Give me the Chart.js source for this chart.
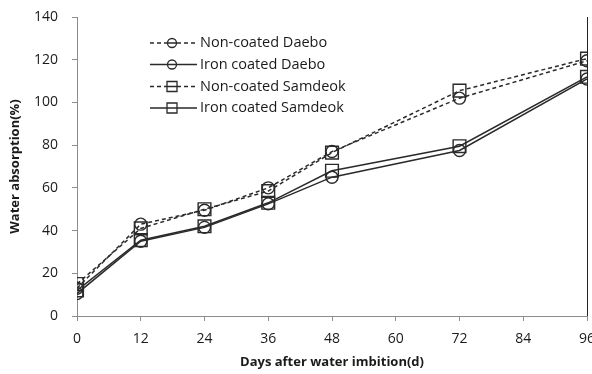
<!DOCTYPE html>
<html>
<head>
<meta charset="utf-8">
<script src="https://cdn.jsdelivr.net/npm/chart.js@4"></script>
<style>
    html, body { margin: 0; padding: 0; background: #fff; }
    #wrap { width: 592px; height: 374px; }
</style>
</head>
<body>
<div id="wrap"><canvas id="absorptionChart"></canvas></div>
<script>
// ======================
// Data
// ======================
const days = [0, 12, 24, 36, 48, 72, 96];
const nonCoatedDaebo = [13, 43, 49.5, 60, 77, 102, 119.5];
const ironCoatedDaebo = [10.5, 35, 41.5, 52.5, 65, 77.5, 111];
const nonCoatedSamdeok = [15, 41, 50, 58.5, 76.5, 105.5, 120.5];
const ironCoatedSamdeok = [12, 35.5, 42, 53, 68, 79.5, 112];
const seriesNames = ['Non-coated Daebo', 'Iron coated Daebo', 'Non-coated Samdeok', 'Iron coated Samdeok'];
const xTicks = [0, 12, 24, 36, 48, 60, 72, 84, 96];
const yTicks = [0, 20, 40, 60, 80, 100, 120, 140];

const lineColor = '#2a2a2a';
const axisColor = '#8c8c8c';
const textColor = '#1a1a1a';

function toPoints(values) {
    return days.map((d, i) => ({ x: d, y: values[i] }));
}

function series(label, values, dashed, shape) {
    return {
        label: label,
        data: toPoints(values),
        borderColor: lineColor,
        borderWidth: 1.5,
        borderDash: dashed ? [4, 3] : [],
        pointStyle: shape,
        pointRadius: shape === 'rect' ? 9 : 6,
        pointBorderColor: lineColor,
        pointBorderWidth: 1.4,
        pointBackgroundColor: 'rgba(0,0,0,0)',
        tension: 0
    };
}

// ======================
// Legend + right border
// ======================
const lineLegend = {
    id: 'lineLegend',
    afterDraw(chart) {
        const ctx = chart.ctx;
        const area = chart.chartArea;
        ctx.save();

        // right frame line
        ctx.strokeStyle = '#222';
        ctx.lineWidth = 1;
        ctx.beginPath();
        ctx.moveTo(area.right + 0.5, area.top);
        ctx.lineTo(area.right + 0.5, area.bottom);
        ctx.stroke();

        const startX = 150, endX = 197, midX = 172;
        const rows = [43, 64.5, 86.5, 108];
        ctx.font = '14.5px "Open Sans"';
        ctx.textBaseline = 'middle';
        chart.data.datasets.forEach((ds, i) => {
            const y = rows[i];
            ctx.strokeStyle = lineColor;
            ctx.lineWidth = 1.3;
            ctx.setLineDash(ds.borderDash);
            ctx.beginPath();
            ctx.moveTo(startX, y);
            ctx.lineTo(midX - 5, y);
            ctx.moveTo(midX + 5, y);
            ctx.lineTo(endX, y);
            ctx.stroke();
            ctx.setLineDash([]);
            ctx.beginPath();
            if (ds.pointStyle === 'rect') {
                ctx.rect(midX - 5, y - 5, 10, 10);
                ctx.moveTo(midX - 5, y);
                ctx.lineTo(midX + 5, y);
            } else {
                ctx.arc(midX, y, 4.5, 0, Math.PI * 2);
                ctx.moveTo(midX - 4.5, y);
                ctx.lineTo(midX + 4.5, y);
            }
            ctx.stroke();
            ctx.fillStyle = textColor;
            ctx.fillText(ds.label, 200, y);
        });
        ctx.restore();
    }
};

// ======================
// Chart
// ======================
const canvas = document.getElementById('absorptionChart');

new Chart(canvas, {
    type: 'line',
    data: {
        datasets: [
            series(seriesNames[0], nonCoatedDaebo, true, 'circle'),
            series(seriesNames[1], ironCoatedDaebo, false, 'circle'),
            series(seriesNames[2], nonCoatedSamdeok, true, 'rect'),
            series(seriesNames[3], ironCoatedSamdeok, false, 'rect')
        ]
    },
    options: {
        responsive: true,
        maintainAspectRatio: false,
        animation: false,
        layout: {
            autoPadding: false,
            padding: { top: 17, right: 5, left: 0, bottom: 0 }
        },
        scales: {
            x: {
                type: 'linear',
                min: 0,
                max: 96,
                afterBuildTicks: (scale) => { scale.ticks = xTicks.map(v => ({ value: v })); },
                afterFit: (scale) => {
                    scale.height = 58;
                    scale.paddingLeft = 0;
                    scale.paddingRight = 0;
                },
                ticks: {
                    color: textColor,
                    font: { family: 'Open Sans', size: 14 },
                    padding: 10,
                    maxRotation: 0
                },
                grid: {
                    drawOnChartArea: false,
                    drawTicks: true,
                    tickLength: 5,
                    color: axisColor
                },
                border: { color: axisColor, width: 1 },
                title: {
                    display: true,
                    text: 'Days after water imbition(d)',
                    color: textColor,
                    font: { family: 'Open Sans', size: 13, weight: 'bold' },
                    padding: { top: 0, bottom: 4 }
                }
            },
            y: {
                min: 0,
                max: 140,
                afterBuildTicks: (scale) => { scale.ticks = yTicks.map(v => ({ value: v })); },
                afterFit: (scale) => {
                    scale.width = 77;
                    scale.paddingTop = 0;
                    scale.paddingBottom = 0;
                },
                ticks: {
                    color: textColor,
                    font: { family: 'Open Sans', size: 14 },
                    padding: 14
                },
                grid: {
                    drawOnChartArea: false,
                    drawTicks: true,
                    tickLength: 5,
                    color: axisColor
                },
                border: { color: axisColor, width: 1 },
                title: {
                    display: true,
                    text: 'Water absorption(%)',
                    color: textColor,
                    font: { family: 'Open Sans', size: 13, weight: 'bold' },
                    padding: { top: 7, bottom: 0 }
                }
            }
        },
        plugins: {
            legend: { display: false },
            tooltip: { enabled: false }
        }
    },
    plugins: [lineLegend]
});
</script>
</body>
</html>
